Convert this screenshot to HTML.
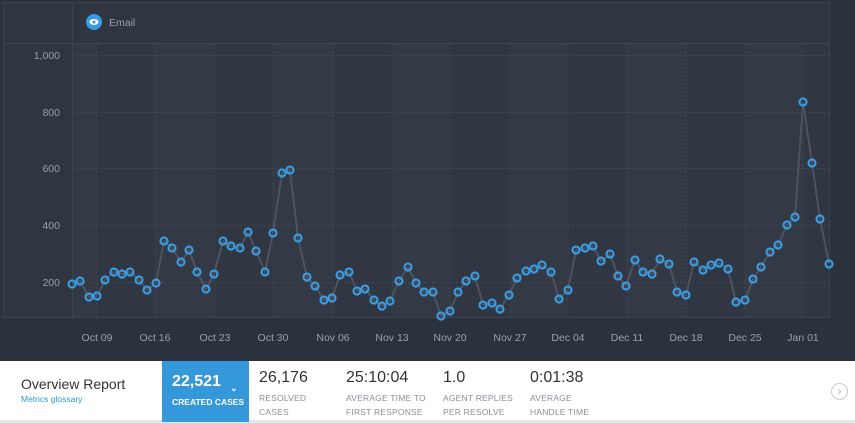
<!DOCTYPE html>
<html><head><meta charset="utf-8"><style>
body{margin:0;width:855px;height:423px;overflow:hidden;background:#2c323d;font-family:"Liberation Sans",sans-serif}
.bar{position:absolute;left:0;top:361px;width:855px;height:59px;background:#fff;border-bottom:3px solid #e3e7ea}
.t{position:absolute;white-space:nowrap}
.big{font-size:16px;color:#333}
.sm{font-size:8.5px;color:#8a8f96;line-height:14px;letter-spacing:.2px}
</style></head><body>
<svg width="855" height="361" style="position:absolute;left:0;top:0">
<rect x="3.5" y="2.5" width="826" height="315" fill="#2f3541" stroke="#3c4350"/>
<rect x="72" y="43" width="757" height="274" fill="#333a46"/>
<g fill="#2f3541" opacity="0.6">
<rect x="97" y="43" width="58" height="274"/><rect x="215" y="43" width="58" height="274"/><rect x="333" y="43" width="59" height="274"/><rect x="450" y="43" width="60" height="274"/><rect x="568" y="43" width="59" height="274"/><rect x="686" y="43" width="59" height="274"/><rect x="803" y="43" width="26" height="274"/>
</g>
<line x1="72.5" y1="2" x2="72.5" y2="317" stroke="#3c4350"/>
<line x1="3" y1="43.5" x2="829" y2="43.5" stroke="#3f4653"/>
<g stroke="#414855" stroke-dasharray="2,2">
<line x1="72" y1="55.5" x2="829" y2="55.5"/><line x1="72" y1="112.5" x2="829" y2="112.5"/><line x1="72" y1="168.5" x2="829" y2="168.5"/><line x1="72" y1="225.5" x2="829" y2="225.5"/><line x1="72" y1="282.5" x2="829" y2="282.5"/>
<line x1="97" y1="43" x2="97" y2="317"/><line x1="155" y1="43" x2="155" y2="317"/><line x1="215" y1="43" x2="215" y2="317"/><line x1="273" y1="43" x2="273" y2="317"/><line x1="333" y1="43" x2="333" y2="317"/><line x1="392" y1="43" x2="392" y2="317"/><line x1="450" y1="43" x2="450" y2="317"/><line x1="510" y1="43" x2="510" y2="317"/><line x1="568" y1="43" x2="568" y2="317"/><line x1="627" y1="43" x2="627" y2="317"/><line x1="686" y1="43" x2="686" y2="317"/><line x1="745" y1="43" x2="745" y2="317"/><line x1="803" y1="43" x2="803" y2="317"/>
</g>
<g font-size="10.5" fill="#9aa0a8" text-anchor="end">
<text x="60" y="59">1,000</text><text x="60" y="116">800</text><text x="60" y="172">600</text><text x="60" y="229">400</text><text x="60" y="286">200</text>
</g>
<g font-size="10.5" fill="#9aa0a8" text-anchor="middle">
<text x="97" y="341">Oct 09</text><text x="155" y="341">Oct 16</text><text x="215" y="341">Oct 23</text><text x="273" y="341">Oct 30</text><text x="333" y="341">Nov 06</text><text x="392" y="341">Nov 13</text><text x="450" y="341">Nov 20</text><text x="510" y="341">Nov 27</text><text x="568" y="341">Dec 04</text><text x="627" y="341">Dec 11</text><text x="686" y="341">Dec 18</text><text x="745" y="341">Dec 25</text><text x="803" y="341">Jan 01</text>
</g>
<circle cx="94" cy="22" r="8" fill="#3a9be0"/>
<ellipse cx="94" cy="22" rx="4.5" ry="3" fill="#fff"/><circle cx="94" cy="22" r="1.5" fill="#3a9be0"/>
<text x="109" y="26" font-size="10.5" fill="#9aa0a8">Email</text>
<polyline id="p" fill="none" stroke="#4c535f" stroke-width="2" points="72,284 80,281 89,297 97,296 105,280 114,272 122,274 130,272 139,280 147,290 156,283 164,241 172,248 181,262 189,250 197,272 206,289 214,274 223,241 231,246 240,248 248,232 256,251 265,272 273,233 282,173 290,170 298,238 307,277 315,286 324,300 332,298 340,275 349,272 357,291 365,289 374,300 382,306 390,301 399,281 408,267 416,283 424,292 433,292 441,316 450,311 458,292 466,281 475,276 483,305 492,303 500,309 509,295 517,278 526,271 534,269 542,265 551,272 559,299 568,290 576,250 585,248 593,246 601,261 610,254 618,276 626,286 635,260 643,272 652,274 660,259 669,264 677,292 686,295 694,262 703,270 711,265 719,263 728,269 736,302 745,300 753,279 761,267 770,252 778,245 787,225 795,217 803,102 812,163 820,219 829,264"/>
<g id="dots" fill="none" stroke="#3a9be0" stroke-width="2.2"></g>
</svg>
<script>
var pts=document.getElementById('p').getAttribute('points').trim().split(/\s+/),g=document.getElementById('dots'),s='';
pts.forEach(function(p){var a=p.split(',');s+='<circle cx="'+a[0]+'" cy="'+a[1]+'" r="3.5"/>';});
g.innerHTML=s;
</script>
<div class="bar">
<div class="t" style="left:21px;top:15px;font-size:14px;color:#333">Overview Report</div>
<div class="t" style="left:21px;top:33px;font-size:8.5px;color:#2a9ad8">Metrics glossary</div>
<div style="position:absolute;left:162px;top:0;width:87px;height:61px;background:#3498db"></div>
<div class="t" style="left:172px;top:12px;font-size:16px;color:#fff;font-weight:bold">22,521</div>
<div class="t" style="left:172px;top:36px;font-size:8.5px;color:#fff;font-weight:bold">CREATED CASES</div>
<div class="t" style="left:230px;top:22px;font-size:9px;color:#fff;font-weight:bold">&#8964;</div>
<div class="t big" style="left:259px;top:8px">26,176</div>
<div class="t sm" style="left:259px;top:30px">RESOLVED<br>CASES</div>
<div class="t big" style="left:346px;top:8px">25:10:04</div>
<div class="t sm" style="left:346px;top:30px">AVERAGE TIME TO<br>FIRST RESPONSE</div>
<div class="t big" style="left:443px;top:8px">1.0</div>
<div class="t sm" style="left:443px;top:30px">AGENT REPLIES<br>PER RESOLVE</div>
<div class="t big" style="left:530px;top:8px">0:01:38</div>
<div class="t sm" style="left:530px;top:30px">AVERAGE<br>HANDLE TIME</div>
<div style="position:absolute;left:831px;top:22px;width:15px;height:15px;border:1px solid #c8ccd0;border-radius:50%;color:#b0b4b8;font-size:12px;text-align:center;line-height:15px">&#8250;</div>
</div>
</body></html>
